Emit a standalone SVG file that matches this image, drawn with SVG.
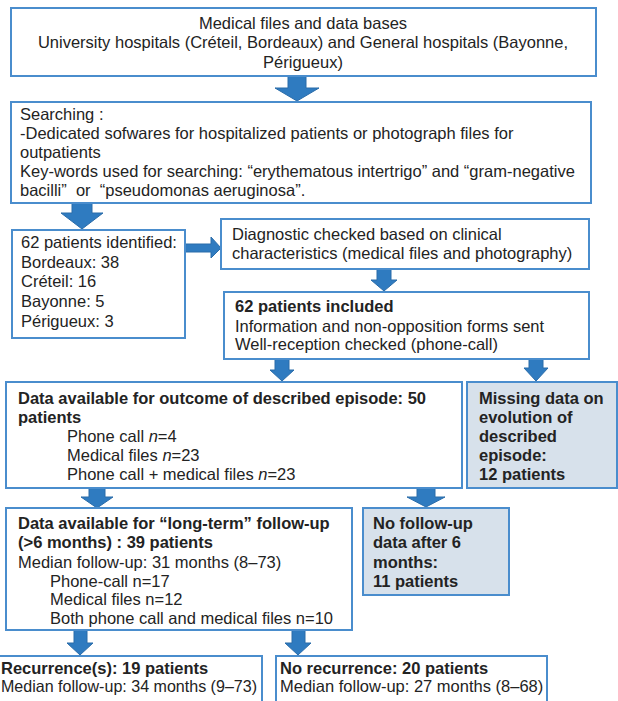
<svg xmlns="http://www.w3.org/2000/svg" width="618" height="701" viewBox="0 0 618 701">
<style>
.box{fill:#ffffff;stroke:#4a8dcd;stroke-width:2}
.grey{fill:#d7e1eb;stroke:#4a8dcd;stroke-width:2}
.arr{fill:#2f7bc0;stroke:#2a6ca9;stroke-width:1}
text{font-family:"Liberation Sans",Arial,sans-serif;font-size:16.5px;fill:#232323}
.b{font-weight:bold}
.c{text-anchor:middle}
</style>
<rect width="618" height="701" fill="#ffffff"/>
<g id="connectors">
<polygon class="arr" points="288,76 306,76 306,88 319,88 297,101 275,88 288,88"/>
<polygon class="arr" points="72,203 92,203 92,213 103,213 82,229 61,213 72,213"/>
<polygon class="arr" points="185,244 211,244 211,237 221,248 211,258 211,252 185,252"/>
<polygon class="arr" points="377,269 391,269 391,280 397,280 384,291 371,280 377,280"/>
<polygon class="arr" points="275,359 289,359 289,370 294,370 282,381 270,370 275,370"/>
<polygon class="arr" points="529,359 543,359 543,368 548,368 536,381 524,368 529,368"/>
<polygon class="arr" points="89,488 105,488 105,497 113,497 97,508 81,497 89,497"/>
<polygon class="arr" points="417,488 435,488 435,497 445,497 426,507 407,497 417,497"/>
<polygon class="arr" points="74,630 87,630 87,643 93,643 80,655 67,643 74,643"/>
<polygon class="arr" points="292,630 305,630 305,643 311,643 298,655 285,643 292,643"/>
</g>
<g id="sources">
<rect class="box" x="11" y="8" width="585" height="68"/>
<text class="c" x="303" y="29">Medical files and data bases</text>
<text class="c" x="303" y="48">University hospitals (Créteil, Bordeaux) and General hospitals (Bayonne,</text>
<text class="c" x="303" y="68">Périgueux)</text>
</g>
<g id="searching">
<rect class="box" x="11" y="102" width="580" height="101"/>
<text x="20" y="120">Searching :</text>
<text x="20" y="139">-Dedicated sofwares for hospitalized patients or photograph files for</text>
<text x="20" y="158">outpatients</text>
<text x="20" y="177">Key-words used for searching: “erythematous intertrigo” and “gram-negative</text>
<text x="20" y="196" xml:space="preserve">bacilli”  or  “pseudomonas aeruginosa”.</text>
</g>
<g id="identified">
<rect class="box" x="12" y="230" width="173" height="108"/>
<text x="21" y="248">62 patients identified:</text>
<text x="21" y="268">Bordeaux: 38</text>
<text x="21" y="287">Créteil: 16</text>
<text x="21" y="307">Bayonne: 5</text>
<text x="21" y="327">Périgueux: 3</text>
</g>
<g id="diagnostic">
<rect class="box" x="221" y="219" width="368" height="50"/>
<text x="232" y="240">Diagnostic checked based on clinical</text>
<text x="232" y="259">characteristics (medical files and photography)</text>
</g>
<g id="included">
<rect class="box" x="224" y="292" width="365" height="67"/>
<text class="b" x="235" y="312">62 patients included</text>
<text x="235" y="332">Information and non-opposition forms sent</text>
<text x="235" y="350">Well-reception checked (phone-call)</text>
</g>
<g id="outcome">
<rect class="box" x="6" y="382" width="456" height="106"/>
<text class="b" x="18" y="404">Data available for outcome of described episode: 50</text>
<text class="b" x="18" y="423">patients</text>
<text x="67" y="442">Phone call <tspan font-style="italic">n</tspan>=4</text>
<text x="67" y="461">Medical files <tspan font-style="italic">n</tspan>=23</text>
<text x="67" y="480">Phone call + medical files <tspan font-style="italic">n</tspan>=23</text>
</g>
<g id="missing">
<rect class="grey" x="467" y="382" width="150" height="106"/>
<text class="b" x="479" y="404">Missing data on</text>
<text class="b" x="479" y="423">evolution of</text>
<text class="b" x="479" y="442">described</text>
<text class="b" x="479" y="461">episode:</text>
<text class="b" x="479" y="480">12 patients</text>
</g>
<g id="longterm">
<rect class="box" x="6" y="508" width="346" height="122"/>
<text class="b" x="18" y="529">Data available for “long-term” follow-up</text>
<text class="b" x="18" y="548">(&gt;6 months) : 39 patients</text>
<text x="18" y="568">Median follow-up: 31 months (8–73)</text>
<text x="50" y="587">Phone-call n=17</text>
<text x="50" y="605">Medical files n=12</text>
<text x="50" y="624">Both phone call and medical files n=10</text>
</g>
<g id="nofollowup">
<rect class="grey" x="363" y="508" width="146" height="87"/>
<text class="b" x="373" y="529">No follow-up</text>
<text class="b" x="373" y="548">data after 6</text>
<text class="b" x="373" y="568">months:</text>
<text class="b" x="373" y="587">11 patients</text>
</g>
<g id="recurrence">
<rect class="box" x="-10" y="656" width="272" height="60"/>
<text class="b" x="1" y="674">Recurrence(s): 19 patients</text>
<text x="1" y="692" textLength="256" lengthAdjust="spacingAndGlyphs">Median follow-up: 34 months (9–73)</text>
</g>
<g id="norecurrence">
<rect class="box" x="276" y="656" width="271" height="60"/>
<text class="b" x="280" y="674">No recurrence: 20 patients</text>
<text x="280" y="692">Median follow-up: 27 months (8–68)</text>
</g>
</svg>
